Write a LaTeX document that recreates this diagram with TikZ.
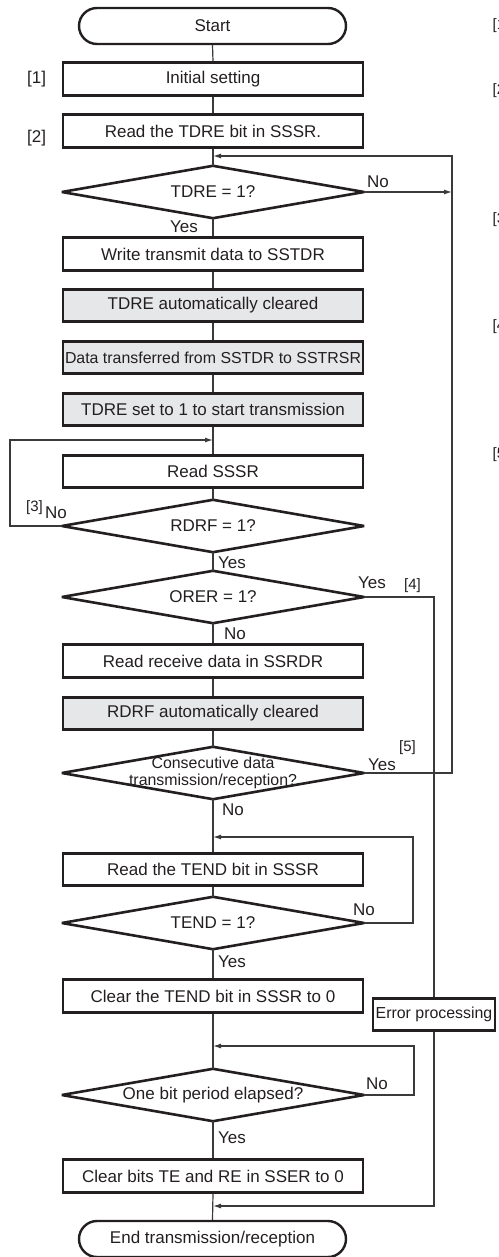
\documentclass[tikz,border=0pt]{standalone}
\usepackage{fontspec}
\setmainfont{Liberation Sans}
\usetikzlibrary{arrows.meta}
\definecolor{ink}{HTML}{231F20}
\definecolor{shade}{HTML}{E6E7E8}
\definecolor{wirec}{HTML}{3A3A3A}
\begin{document}
\begin{tikzpicture}[x=1pt,y=-1pt,
  every node/.style={text=ink,font=\fontsize{17}{19}\selectfont},
  procbox/.style={draw=ink,line width=2.6pt,minimum width=300pt,minimum height=32.5pt,inner sep=0pt},
  graybox/.style={procbox,fill=shade},
  term/.style={draw=ink,line width=2.4pt,rounded corners=18pt,minimum width=267pt,minimum height=36pt,inner sep=0pt},
  decis/.style={minimum width=302pt,minimum height=52pt,inner sep=0pt},
  diamline/.style={draw=ink,line width=2.6pt,line join=bevel},
  wire/.style={draw=wirec,line width=1.2pt},
  arr/.style={wire,-{Latex[length=8pt,width=5pt]}},
  lab/.style={inner sep=0pt,anchor=base west},
  tag/.style={lab,font=\fontsize{15}{17}\selectfont},
  small/.style={font=\fontsize{15.9}{16.5}\selectfont}
]
\useasboundingbox (0,0) rectangle (498,1257);
\clip (0,0) rectangle (498,1257);

% nodes
\node[term] (start) at (212.5,26) {Start};
\node[procbox] (init) at (213,79) {Initial setting};
\node[procbox] (rdtdre) at (213,131) {Read the TDRE bit in SSSR.};
\node[decis] (d1) at (213,192) {TDRE = 1?};
\node[procbox] (wr) at (213,254) {Write transmit data to SSTDR};
\node[graybox] (clr1) at (213,305.5) {TDRE automatically cleared};
\node[graybox,small] (xfer) at (213,357.5) {Data transferred from SSTDR to SSTRSR};
\node[graybox] (set1) at (213,409.5) {TDRE set to 1 to start transmission};
\node[procbox] (rdsssr) at (213,471.5) {Read SSSR};
\node[decis] (d2) at (213,526) {RDRF = 1?};
\node[decis] (d3) at (213,597) {ORER = 1?};
\node[procbox] (rdrx) at (213,661) {Read receive data in SSRDR};
\node[graybox] (clr2) at (213,713.5) {RDRF automatically cleared};
\node[decis,small,align=center] (d4) at (213,773) {Consecutive data\\transmission/reception?};
\node[procbox] (rdtend) at (213,869.5) {Read the TEND bit in SSSR};
\node[decis] (d5) at (213,923) {TEND = 1?};
\node[procbox] (clrtend) at (213,996) {Clear the TEND bit in SSSR to 0};
\node[decis] (d6) at (213,1095) {One bit period elapsed?};
\node[procbox] (clrte) at (213,1176) {Clear bits TE and RE in SSER to 0};
\node[term] (stop) at (212.5,1239) {End transmission/reception};
\node[procbox,small,minimum width=122pt] (err) at (434,1014.5) {Error processing};

% diamond outlines
\foreach \d in {d1,d2,d3,d4,d5,d6}
  \draw[diamline] (\d.west) -- (\d.north) -- (\d.east) -- (\d.south) -- cycle;

% junction coordinates
\coordinate (j1) at (213,156);
\coordinate (c1) at (452,156);
\coordinate (j2) at (213,440);
\coordinate (c2) at (10,440);
\coordinate (j5) at (213,837);
\coordinate (c5) at (413,837);
\coordinate (j6) at (213,1046);
\coordinate (c6) at (414,1046);
\coordinate (j3) at (213,1206);

% main flow
\draw[wire] (start.south) -- (init.north);
\draw[wire] (init.south) -- (rdtdre.north);
\draw[wire] (rdtdre.south) -- (d1.north);
\draw[wire] (d1.south) -- (wr.north);
\draw[wire] (wr.south) -- (clr1.north);
\draw[wire] (clr1.south) -- (xfer.north);
\draw[wire] (xfer.south) -- (set1.north);
\draw[wire] (set1.south) -- (rdsssr.north);
\draw[wire] (rdsssr.south) -- (d2.north);
\draw[wire] (d2.south) -- (d3.north);
\draw[wire] (d3.south) -- (rdrx.north);
\draw[wire] (rdrx.south) -- (clr2.north);
\draw[wire] (clr2.south) -- (d4.north);
\draw[wire] (d4.south) -- (rdtend.north);
\draw[wire] (rdtend.south) -- (d5.north);
\draw[wire] (d5.south) -- (clrtend.north);
\draw[wire] (clrtend.south) -- (d6.north);
\draw[wire] (d6.south) -- (clrte.north);
\draw[wire] (clrte.south) -- (stop.north);

% loops
\draw[arr] (d1.east) -- (c1 |- d1.east);
\draw[arr] (d4.east) -| (c1) -- (j1);
\draw[arr] (d2.west) -| (c2) -- (j2);
\draw[wire] (d3.east) -| (err.north);
\draw[arr] (err.south) |- (j3);
\draw[arr] (d5.east) -| (c5) -- (j5);
\draw[arr] (d6.east) -| (c6) -- (j6);

% labels
\node[lab] at (27,84) {[1]};
\node[lab] at (27,143) {[2]};
\node[lab] at (367,188) {No};
\node[lab] at (170,233) {Yes};
\node[tag] at (26,511.3) {[3]};
\node[lab] at (45,518) {No};
\node[lab] at (218,568) {Yes};
\node[lab] at (358,588) {Yes};
\node[tag] at (404,589) {[4]};
\node[lab] at (224,639) {No};
\node[lab] at (368,770) {Yes};
\node[tag] at (399,751) {[5]};
\node[lab] at (222,815) {No};
\node[lab] at (353,915) {No};
\node[lab] at (218,967) {Yes};
\node[lab] at (366,1089) {No};
\node[lab] at (218,1143) {Yes};

% clipped step tags at the right edge
\node[tag] at (492.5,30) {[1]};
\node[tag] at (492.5,95) {[2]};
\node[tag] at (492.5,223.3) {[3]};
\node[tag] at (492.5,330) {[4]};
\node[tag] at (492.5,458.3) {[5]};
\end{tikzpicture}
\end{document}
